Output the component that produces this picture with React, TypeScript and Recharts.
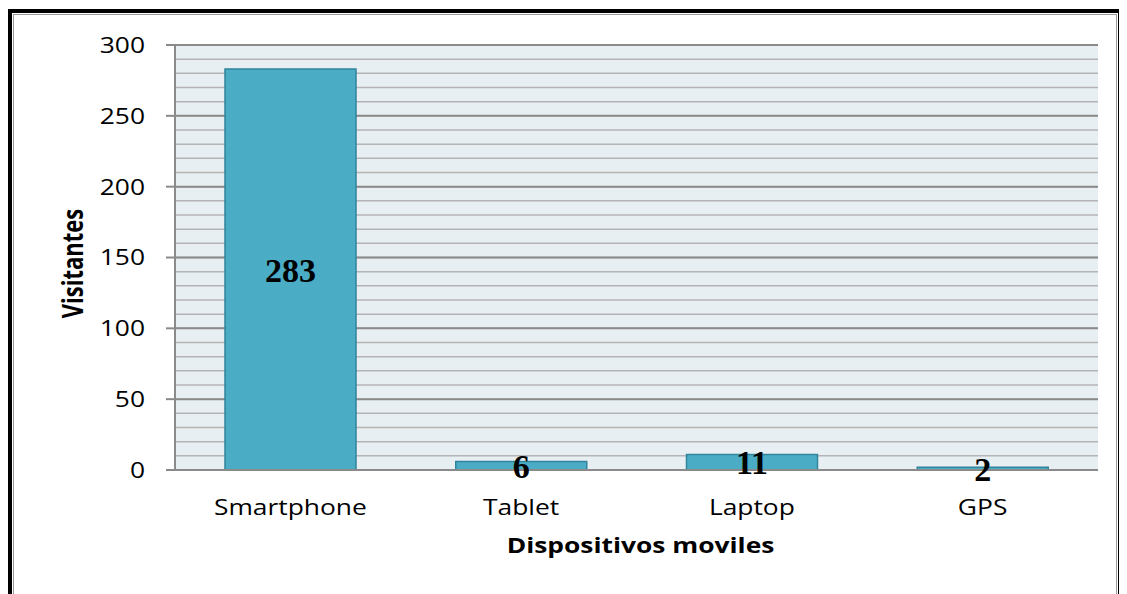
import React from "react";
import {
  BarChart,
  Bar,
  XAxis,
  YAxis,
  CartesianGrid,
  LabelList,
} from "recharts";

const categories = ["Smartphone", "Tablet", "Laptop", "GPS"];
const visitantes = [283, 6, 11, 2];
const majorTicks = [0, 50, 100, 150, 200, 250, 300];
const minorTicks = [
  0, 10, 20, 30, 40, 50, 60, 70, 80, 90, 100, 110, 120, 130, 140, 150, 160,
  170, 180, 190, 200, 210, 220, 230, 240, 250, 260, 270, 280, 290, 300,
];
const xTitle = "Dispositivos moviles";
const yTitle = "Visitantes";

const data = categories.map((c, i) => ({ name: c, value: visitantes[i] }));

const SANS = "'Open Sans', 'DejaVu Sans', sans-serif";
const STRETCH = 1.2;

const YTick = (props: any) => {
  const { x, y, payload } = props;
  const v = payload.value;
  if (!majorTicks.includes(v)) return null;
  return (
    <g>
      <line x1={x - 9} x2={x} y1={y} y2={y} stroke="#8a8a8a" strokeWidth={2} />
      <g transform={`translate(${x - 30},${y}) scale(${STRETCH},1)`}>
        <text
          x={0}
          y={0}
          dy="0.36em"
          textAnchor="end"
          fontFamily={SANS}
          fontSize={22}
          fill="#000"
        >
          {v}
        </text>
      </g>
    </g>
  );
};

const XTick = (props: any) => {
  const { x, y, payload } = props;
  return (
    <g transform={`translate(${x},${y + 45}) scale(${STRETCH},1)`}>
      <text
        x={0}
        y={0}
        textAnchor="middle"
        fontFamily={SANS}
        fontSize={22}
        fill="#000"
      >
        {payload.value}
      </text>
    </g>
  );
};

const YTitle = (props: any) => {
  const vb = props.viewBox || { x: 0, y: 45, width: 175, height: 425 };
  const cx = vb.x + 73;
  const cy = vb.y + vb.height / 2 + 6;
  return (
    <g transform={`translate(${cx},${cy}) scale(1.3,1) rotate(-90)`}>
      <text
        x={0}
        y={0}
        dy="0.36em"
        textAnchor="middle"
        fontFamily={SANS}
        fontWeight="bold"
        fontSize={22}
        fill="#000"
      >
        {yTitle}
      </text>
    </g>
  );
};

const XTitle = (props: any) => {
  const vb = props.viewBox || { x: 175, y: 470, width: 923, height: 100 };
  const cx = vb.x + vb.width / 2 + 4;
  const cy = vb.y + 83;
  return (
    <g transform={`translate(${cx},${cy}) scale(${STRETCH},1)`}>
      <text
        x={0}
        y={0}
        textAnchor="middle"
        fontFamily={SANS}
        fontWeight="bold"
        fontSize={22}
        fill="#000"
      >
        {xTitle}
      </text>
    </g>
  );
};

export default function App() {
  return (
    <div
      style={{
        position: "relative",
        width: 1119,
        height: 586,
        overflow: "hidden",
        background: "#fff",
      }}
    >
      <style>{"html,body{overflow:hidden}"}</style>
      <div
        style={{
          position: "absolute",
          left: 0,
          top: 1,
          width: 1114,
          height: 700,
          boxSizing: "border-box",
          border: "4px solid #000",
        }}
      >
        <div
          style={{
            position: "absolute",
            left: 1,
            top: 1,
            right: 1,
            bottom: 1,
            border: "1.5px solid #9a9a9a",
          }}
        />
      </div>
      <div style={{ position: "absolute", left: -8, top: -8 }}>
        <BarChart
          width={1127}
          height={594}
          data={data}
          margin={{ top: 45, right: 29, left: 0, bottom: 24 }}
        >
          <CartesianGrid
            vertical={false}
            fill="#e8eff3"
            fillOpacity={1}
            stroke="#b4b4b4"
            strokeWidth={1.5}
          />
          <CartesianGrid
            vertical={false}
            horizontalValues={majorTicks}
            stroke="#8a8a8a"
            strokeWidth={2}
          />
          <XAxis
            dataKey="name"
            height={100}
            tickLine={false}
            tickSize={0}
            tickMargin={0}
            axisLine={{ stroke: "#8a8a8a", strokeWidth: 2 }}
            tick={<XTick />}
            interval={0}
            label={{ content: <XTitle /> }}
          />
          <YAxis
            width={175}
            domain={[0, 300]}
            ticks={minorTicks}
            interval={0}
            tickLine={false}
            tickSize={0}
            tickMargin={0}
            axisLine={{ stroke: "#8a8a8a", strokeWidth: 2 }}
            tick={<YTick />}
            label={{ content: <YTitle /> }}
          />
          <Bar
            dataKey="value"
            fill="#4bacc6"
            stroke="#31849b"
            strokeWidth={1.5}
            barSize={131}
            isAnimationActive={false}
          >
            <LabelList
              dataKey="value"
              position="center"
              fill="#000"
              fontFamily="'Liberation Serif', 'Times New Roman', serif"
              fontWeight="bold"
              fontSize={34}
            />
          </Bar>
        </BarChart>
      </div>
    </div>
  );
}
